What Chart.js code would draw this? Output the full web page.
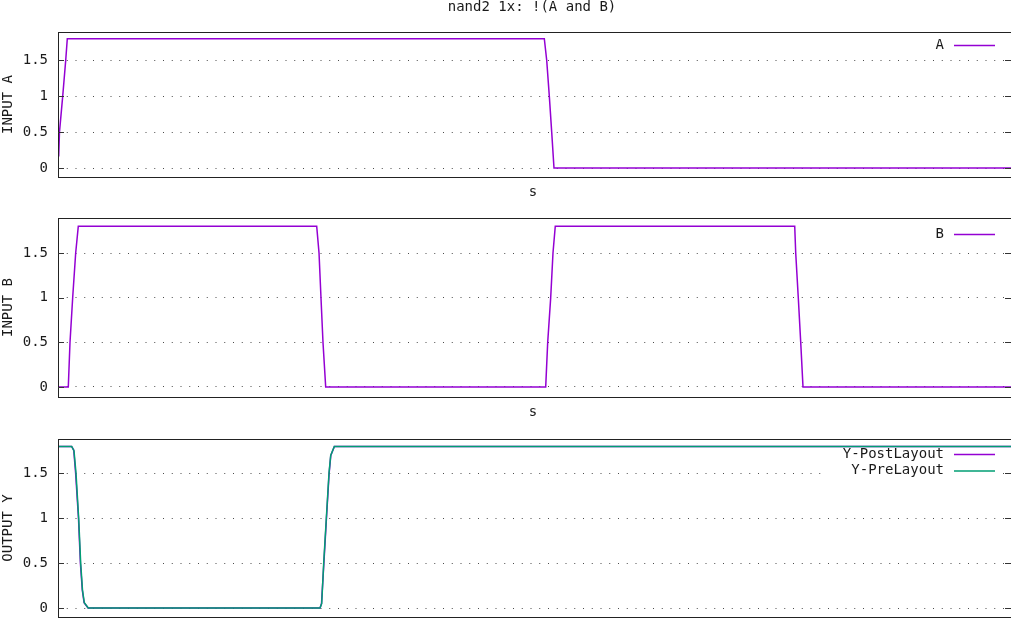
<!DOCTYPE html>
<html>
<head>
<meta charset="utf-8">
<script src="https://cdn.jsdelivr.net/npm/chart.js@4/dist/chart.umd.min.js"></script>
<style>
  html, body { margin: 0; padding: 0; background: #fff; }
  body { width: 1011px; height: 619px; position: relative; overflow: hidden; }
  canvas { position: absolute; left: 0; }
</style>
</head>
<body>
<canvas id="c1" width="1011" height="205" style="top:0px"></canvas>
<canvas id="c2" width="1011" height="215" style="top:205px"></canvas>
<canvas id="c3" width="1011" height="199" style="top:420px"></canvas>
<script>
// ---- data (time in ns, voltage in V) ----
const chartTitle = 'nand2 1x: !(A and B)';
const yTicks = [0, 0.5, 1, 1.5];

const timeA  = [0.015, 0.031, 0.099, 0.162, 0.195, 10.206, 10.256, 10.311, 10.361, 10.409, 20];
const inputA = [0.16,  0.5,   1.0,   1.5,   1.8,   1.8,    1.5,    1.0,    0.5,    0,      0];

const timeB  = [0, 0.216, 0.252, 0.308, 0.371, 0.426, 5.429, 5.478, 5.519, 5.561, 5.618,
                10.235, 10.277, 10.340, 10.388, 10.436, 15.461, 15.482, 15.536, 15.587, 15.635, 20];
const inputB = [0, 0,     0.5,   1.0,   1.5,   1.8,   1.8,   1.5,   1.0,   0.5,   0,
                0,      0.5,    1.0,    1.5,    1.8,    1.8,    1.5,    1.0,    0.5,    0,      0];

const timeYPre = [0, 0.288, 0.336, 0.378, 0.434, 0.476, 0.514, 0.552, 0.636, 5.498, 5.534, 5.576, 5.631, 5.687, 5.723, 5.799, 20];
const yPre     = [1.8, 1.8, 1.75,  1.5,   1.0,   0.5,   0.2,   0.06,  0,     0,     0.05,  0.5,   1.0,   1.5,   1.7,   1.8,   1.8];

const timeYPost = [0, 0.285, 0.330, 0.370, 0.430, 0.470, 0.510, 0.548, 0.630, 5.500, 5.530, 5.580, 5.634, 5.690, 5.725, 5.800, 20];
const yPost     = [1.8, 1.8, 1.76,  1.5,   1.0,   0.5,   0.2,   0.06,  0,     0,     0.05,  0.5,   1.0,   1.5,   1.7,   1.8,   1.8];

const PURPLE = '#9400d3';
const GREEN = '#009e73';
const FONT = '"DejaVu Sans Mono", "Liberation Mono", monospace';
const TEXT = '#1a1a1a';

function pts(xs, ys) { return xs.map((x, i) => ({ x: x, y: ys[i] })); }

function makePanel(id, cfg) {
  const framePlugin = {
    id: 'frame',
    beforeDatasetsDraw(chart) {
      if (!cfg.keyBox) return;
      const ctx = chart.ctx;
      ctx.save();
      ctx.fillStyle = '#fff';
      const b = cfg.keyBox;
      ctx.fillRect(b[0], b[1], b[2], b[3]);
      ctx.restore();
    },
    afterDraw(chart) {
      const ctx = chart.ctx;
      const a = chart.chartArea;
      const ys = chart.scales.y;
      ctx.save();
      // border
      ctx.strokeStyle = '#222';
      ctx.lineWidth = 1;
      ctx.strokeRect(Math.round(a.left) + 0.5, Math.round(a.top) + 0.5,
                     Math.round(a.right - a.left), Math.round(a.bottom - a.top));
      // tick marks
      ctx.strokeStyle = '#333';
      ctx.beginPath();
      yTicks.forEach(v => {
        const py = Math.round(ys.getPixelForValue(v)) + 0.5;
        ctx.moveTo(a.left, py); ctx.lineTo(a.left + 6, py);
        ctx.moveTo(a.right - 6, py); ctx.lineTo(a.right, py);
      });
      ctx.stroke();
      // texts
      ctx.fillStyle = TEXT;
      ctx.font = '14px ' + FONT;
      ctx.textBaseline = 'middle';
      if (cfg.title) {
        ctx.textAlign = 'center';
        ctx.fillText(cfg.title, 532, 7);
      }
      if (cfg.xLabel) {
        ctx.textAlign = 'center';
        ctx.fillText('s', 533, cfg.xLabel);
      }
      // y axis label
      ctx.save();
      ctx.translate(8, (a.top + a.bottom) / 2);
      ctx.rotate(-Math.PI / 2);
      ctx.textAlign = 'center';
      ctx.fillText(cfg.yLabel, 0, 0);
      ctx.restore();
      // key
      cfg.key.forEach(k => {
        ctx.textAlign = 'right';
        ctx.fillStyle = TEXT;
        ctx.fillText(k.label, 944, k.y);
        ctx.strokeStyle = k.color;
        ctx.lineWidth = 1.5;
        ctx.beginPath();
        ctx.moveTo(954, k.y + 0.5);
        ctx.lineTo(995, k.y + 0.5);
        ctx.stroke();
      });
      ctx.restore();
    }
  };

  return new Chart(document.getElementById(id), {
    type: 'line',
    data: { datasets: cfg.datasets },
    options: {
      responsive: false,
      animation: false,
      events: [],
      layout: { padding: { top: cfg.padTop, bottom: cfg.padBottom, left: 0, right: 0 } },
      plugins: { legend: { display: false }, title: { display: false }, tooltip: { enabled: false } },
      elements: { point: { radius: 0 }, line: { tension: 0 } },
      scales: {
        x: { type: 'linear', min: 0, max: 20, display: false },
        y: {
          type: 'linear', min: cfg.yMin, max: cfg.yMax,
          afterFit(scale) {
            scale.width = 58;
            scale.paddingTop = 0; scale.paddingBottom = 0;
            scale.paddingLeft = 0; scale.paddingRight = 0;
          },
          afterBuildTicks(scale) { scale.ticks = yTicks.map(v => ({ value: v })); },
          border: { display: false, dash: [1, 7.75] },
          grid: {
            color: 'rgba(0,0,0,0.7)', lineWidth: 1, drawTicks: false
          },
          ticks: {
            padding: 10, color: TEXT,
            font: { family: FONT, size: 14 },
            callback: (v) => String(v)
          }
        }
      }
    },
    plugins: [framePlugin]
  });
}

makePanel('c1', {
  padTop: 32, padBottom: 28, yMin: -0.125, yMax: 1.893,
  title: chartTitle, xLabel: 192, yLabel: 'INPUT A',
  key: [{ label: 'A', y: 45, color: PURPLE }],
  datasets: [{ label: 'A', data: pts(timeA, inputA), borderColor: PURPLE, borderWidth: 1.5 }]
});

makePanel('c2', {
  padTop: 13, padBottom: 23, yMin: -0.112, yMax: 1.892,
  xLabel: 207, yLabel: 'INPUT B',
  key: [{ label: 'B', y: 29, color: PURPLE }],
  datasets: [{ label: 'B', data: pts(timeB, inputB), borderColor: PURPLE, borderWidth: 1.5 }]
});

makePanel('c3', {
  padTop: 19, padBottom: 2, yMin: -0.10, yMax: 1.883,
  yLabel: 'OUTPUT Y',
  keyBox: [828, 29, 175, 30],
  key: [{ label: 'Y-PostLayout', y: 34, color: PURPLE },
        { label: 'Y-PreLayout', y: 50.5, color: GREEN }],
  datasets: [
    { label: 'Y-PostLayout', data: pts(timeYPost, yPost), borderColor: PURPLE, borderWidth: 1.5, order: 2 },
    { label: 'Y-PreLayout', data: pts(timeYPre, yPre), borderColor: GREEN, borderWidth: 1.5, order: 1 }
  ]
});
</script>
</body>
</html>
